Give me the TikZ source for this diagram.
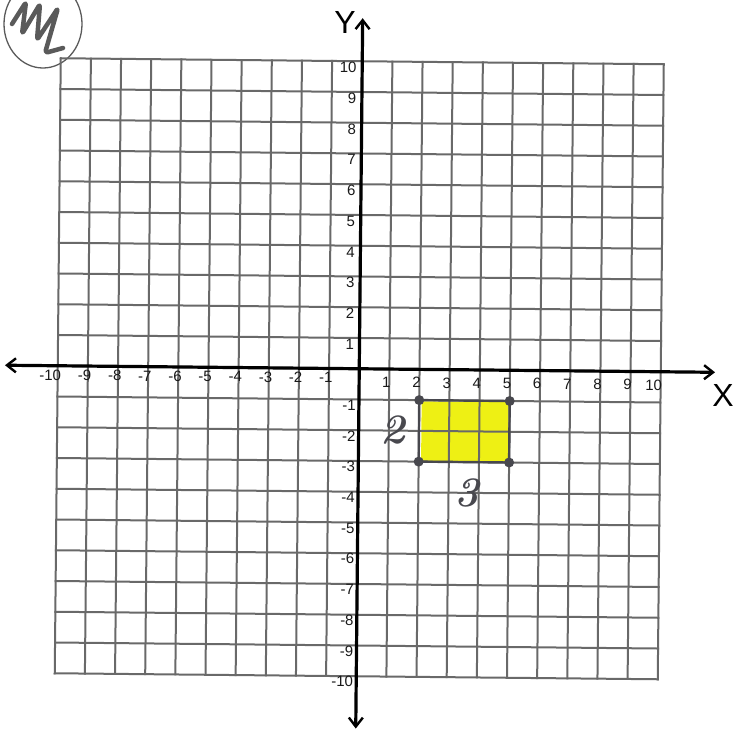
\documentclass[tikz,border=0pt]{standalone}
\usepackage{fontspec}
\newfontfamily\sansf{Liberation Sans}
\usetikzlibrary{arrows.meta}
\definecolor{gridc}{RGB}{105,105,105}
\definecolor{hlyellow}{RGB}{238,240,20}
\definecolor{pencil}{RGB}{72,72,78}
\definecolor{scrib}{RGB}{90,90,90}
\begin{document}
\begin{tikzpicture}[x=1pt,y=1pt,
  gridline/.style={draw=gridc, line width=2pt, line cap=rect},
  axisline/.style={line width=3.2pt, black,
     arrows={Straight Barb[length=9pt,width=14pt,line width=2.4pt]-Straight Barb[length=9pt,width=14pt,line width=2.4pt]}},
  ticklbl/.style={font=\sansf\fontsize{15}{15}\selectfont, inner sep=0pt, text=black!90},
  axislbl/.style={font=\sansf\fontsize{32}{32}\selectfont, inner sep=0pt},
  handnum/.style={font=\bfseries\itshape\fontsize{42}{42}\selectfont, text=pencil, inner sep=0pt},
  corner/.style={fill=pencil}
]
\useasboundingbox (0,0) rectangle (735,-734);
% scribble at top left
\draw[scrib, line width=1.3pt] (43,-24) ellipse [x radius=39, y radius=44];
\draw[scrib, line width=4.5pt, line cap=round, line join=round, rounded corners=3pt]
  (12,-24) -- (26,-2) -- (22,-34) -- (40,-4) -- (37,-40) -- (58,-8) -- (45,-53) -- (63,-48);
\begin{scope}[shift={(359.25,-368.75)}, x={(30.15pt,-0.3pt)}, y={(0.3pt,30.75pt)}]
  % highlighted rectangle (highlighter under the grid)
  \coordinate (r1) at (2,-1);
  \coordinate (r2) at (5,-1);
  \coordinate (r3) at (5,-3);
  \coordinate (r4) at (2,-3);
  \fill[hlyellow] (2.08,-1.04) -- (4.97,-1.04) -- (4.97,-3) -- (2.08,-3) -- cycle;
  % grid
  \foreach \i in {-10,...,10} {
    \draw[gridline] (\i,-10) -- (\i,10);
    \draw[gridline] (-10,\i) -- (10,\i);
  }
  \draw[pencil, line width=2.4pt] (r1) -- (r2) -- (r3) -- (r4) -- cycle;
  \foreach \c in {r1,r2,r3,r4} \fill[corner] (\c) circle (5pt);
  % axes
  \coordinate (xl) at (-11.75,0);
  \coordinate (xr) at (11.8,0);
  \coordinate (yb) at (0,-11.7);
  \coordinate (yt) at (0,11.4);
  \draw[axisline] (xl) -- (xr);
  \draw[axisline] (yb) -- (yt);
  % tick labels
  \foreach \k in {1,...,10} {
    \node[ticklbl, anchor=east] (xp\k) at (\k+0.05,-0.43) {\k};
    \node[ticklbl, anchor=east] (xn\k) at (-\k+0.12,-0.3) {-\k};
    \node[ticklbl, anchor=east] (yp\k) at (-0.18,\k-0.2) {\k};
    \node[ticklbl, anchor=east] (yn\k) at (-0.1,-\k-0.18) {-\k};
  }
  % side lengths
  \node[handnum] (two) at (1.14,-1.98) {2};
  \node[handnum] (three) at (3.61,-4.01) {3};
\end{scope}
\node[axislbl] (ylbl) at (345,-22) {Y};
\node[axislbl] (xlbl) at (723,-395) {X};
\end{tikzpicture}
\end{document}
